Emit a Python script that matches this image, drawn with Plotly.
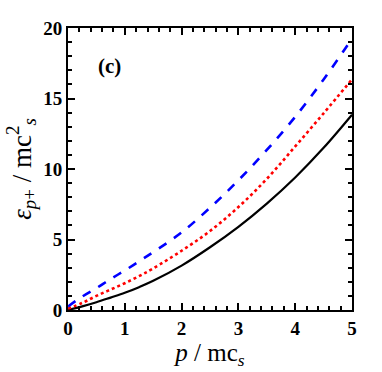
import plotly.graph_objects as go

# momentum values and the three dispersion curves
p = [0, 0.25, 0.5, 0.75, 1, 1.25, 1.5, 2, 2.5, 3, 3.5, 4, 4.5, 5]
eps_black = [0, 0.26, 0.55, 0.88, 1.22, 1.62, 2.07, 3.15, 4.45, 5.9, 7.55, 9.4, 11.5, 13.85]
eps_red = [0.1, 0.5, 1.0, 1.45, 1.9, 2.4, 2.95, 4.2, 5.6, 7.3, 9.3, 11.6, 13.95, 16.36]
eps_blue = [0.25, 0.95, 1.55, 2.2, 2.8, 3.45, 4.1, 5.5, 7.25, 9.2, 11.35, 13.7, 16.35, 19.25]

SERIF = "Liberation Serif"

fig = go.Figure()
fig.add_trace(go.Scatter(x=p, y=eps_black, mode="lines", line_shape="spline",
                         line=dict(color="black", width=2.2)))
fig.add_trace(go.Scatter(x=p, y=eps_red, mode="lines", line_shape="spline",
                         line=dict(color="red", width=2.6, dash="dot")))
fig.add_trace(go.Scatter(x=p, y=eps_blue, mode="lines", line_shape="spline",
                         line=dict(color="blue", width=2.6, dash="dash")))

fig.update_xaxes(range=[0, 5], dtick=1, showline=True, linecolor="black", linewidth=2,
                 mirror="allticks", ticks="inside", ticklen=7, tickwidth=2, tickcolor="black",
                 minor=dict(dtick=0.2, ticks="inside", ticklen=4, tickcolor="black", tickwidth=1.5),
                 tickfont=dict(family=SERIF, size=19, color="black", weight="bold"),
                 title=dict(text="<i>p</i> / mc<sub><i>s</i></sub>",
                            font=dict(family=SERIF, size=25, color="black"), standoff=4))
fig.update_yaxes(range=[0, 20], dtick=5, showline=True, linecolor="black", linewidth=2,
                 mirror="allticks", ticks="inside", ticklen=7, tickwidth=2, tickcolor="black",
                 minor=dict(dtick=1, ticks="inside", ticklen=4, tickcolor="black", tickwidth=1.5),
                 tickfont=dict(family=SERIF, size=19, color="black", weight="bold"),
                 title=dict(text="<i>ε</i><sub><i>p</i>+</sub> / mc<sup>2</sup><sub><i>s</i></sub>",
                            font=dict(family=SERIF, size=27, color="black"), standoff=4))

fig.add_annotation(text="<b>(c)</b>", x=0.10, y=0.915, xref="paper", yref="paper",
                   showarrow=False, font=dict(family=SERIF, size=21, color="black"))

fig.update_layout(width=382, height=372, showlegend=False, plot_bgcolor="white",
                  margin=dict(l=68, r=30, t=28, b=60))

# the page's default body margin would push the figure 8px off the corner
fig.write_html("out.html", config={"displayModeBar": False},
               post_script="document.body.style.margin='0';")
